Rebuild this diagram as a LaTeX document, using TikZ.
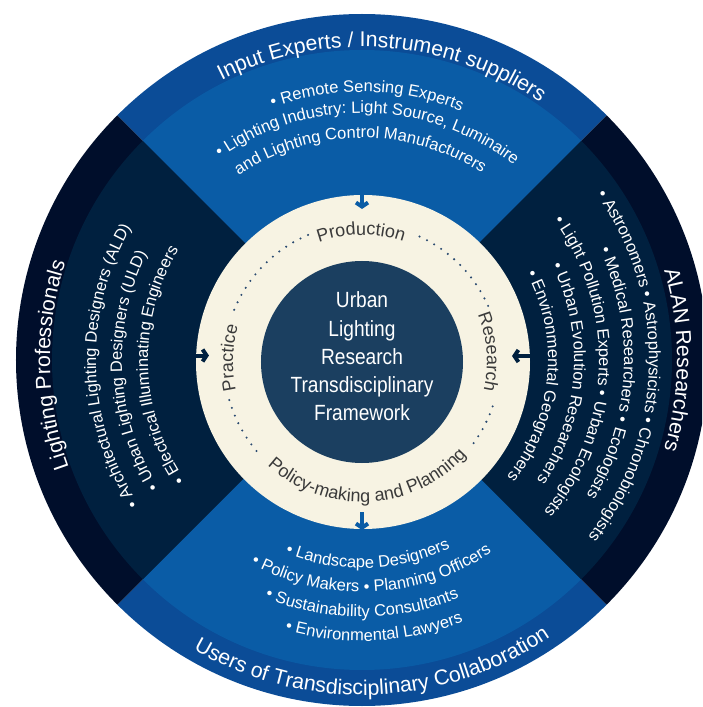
\documentclass[tikz,border=0pt]{standalone}
\usepackage{fontspec}
\setmainfont{Liberation Sans}
\newfontfamily\narrowfont[FakeStretch=0.87]{Liberation Sans}
\usetikzlibrary{decorations.text,arrows.meta}
\definecolor{bandBlue}{HTML}{0B4C97}
\definecolor{innerBlue}{HTML}{0A5CA6}
\definecolor{bandNavy}{HTML}{000E2B}
\definecolor{innerNavy}{HTML}{00203F}
\definecolor{creamFill}{HTML}{F7F3E3}
\definecolor{coreBlue}{HTML}{1B3F60}
\definecolor{labelGrey}{HTML}{3A3A3A}
\definecolor{dotBlue}{HTML}{2A4A70}
\newcommand\bandfont{\fontsize{21.3}{21.3}\selectfont}
\newcommand\listfont{\fontsize{16.5}{16.5}\selectfont}
\newcommand\ringfont{\fontsize{18}{18}\selectfont}
% clockwise arc text (letters face outward)
\newcommand\cwtext[5]{%
  \path[decorate,decoration={text along path,text align=center,text color=#3,text={|#4|#5}}]
    ({#2+85}:#1) arc[start angle={#2+85},end angle={#2-85},radius=#1];}
% counter-clockwise arc text (letters face inward)
\newcommand\ccwtext[5]{%
  \path[decorate,decoration={text along path,text align=center,text color=#3,text={|#4|#5}}]
    ({#2-85}:#1) arc[start angle={#2-85},end angle={#2+85},radius=#1];}
\tikzset{
  flowarrow/.style={line width=4pt,-{Straight Barb[length=4pt,width=12pt]}},
  dotring/.style={dotBlue,line width=2.3pt,line cap=round,dash pattern=on 0pt off 8.3pt}
}
\begin{document}
\begin{tikzpicture}[x=1pt,y=1pt]
\useasboundingbox (-362,-347) rectangle (340,360);
\clip (-362,-347) rectangle (340,360);
\fill[white] (-362,-347) rectangle (340,360);
% outer band
\fill[bandBlue] (0,0) -- (45:346) arc[start angle=45,end angle=135,radius=346] -- cycle;
\fill[bandBlue] (0,0) -- (225:346) arc[start angle=225,end angle=315,radius=346] -- cycle;
\fill[bandNavy] (0,0) -- (135:346) arc[start angle=135,end angle=225,radius=346] -- cycle;
\fill[bandNavy] (0,0) -- (-45:346) arc[start angle=-45,end angle=45,radius=346] -- cycle;
% inner ring
\fill[innerBlue] (0,0) -- (45:310) arc[start angle=45,end angle=135,radius=310] -- cycle;
\fill[innerBlue] (0,0) -- (225:310) arc[start angle=225,end angle=315,radius=310] -- cycle;
\fill[innerNavy] (0,0) -- (135:310) arc[start angle=135,end angle=225,radius=310] -- cycle;
\fill[innerNavy] (0,0) -- (-45:310) arc[start angle=-45,end angle=45,radius=310] -- cycle;
% arrow end points
\coordinate (inTopA) at (0,171);
\coordinate (inTopB) at (0,151);
\coordinate (outBotA) at (0,-152);
\coordinate (outBotB) at (0,-170);
\coordinate (inLeftA) at (-169,4.5);
\coordinate (inLeftB) at (-153,4.5);
\coordinate (inRightA) at (172,4);
\coordinate (inRightB) at (150,4);
% cream ring
\fill[creamFill] (1,-2) circle[radius=167];
\draw[flowarrow,innerBlue] (inTopA) -- (inTopB);
\draw[flowarrow,innerBlue] (outBotA) -- (outBotB);
\draw[flowarrow,innerNavy] (inLeftA) -- (inLeftB);
\draw[flowarrow,innerNavy] (inRightA) -- (inRightB);
\begin{scope}[shift={(0,-2)}]
\draw[dotring] (113:138) arc[start angle=113,end angle=161,radius=138];
\draw[dotring] (196:138) arc[start angle=196,end angle=221,radius=138];
\draw[dotring] (-36:138) arc[start angle=-36,end angle=-16,radius=138];
\draw[dotring] (24:138) arc[start angle=24,end angle=68,radius=138];
\cwtext{127}{90.4}{labelGrey}{\ringfont}{Production}
\cwtext{125}{4.5}{labelGrey}{\ringfont}{Research}
\cwtext{129}{178.2}{labelGrey}{\ringfont}{Practice}
\ccwtext{140}{273}{labelGrey}{\ringfont}{Policy-making and Planning}
\fill[coreBlue] (0,0) circle[radius=101];
\end{scope}
\node[align=center,text=white,inner sep=0pt,font=\narrowfont\fontsize{22}{28.3}\selectfont] (core) at (0,3.5)
  {Urban\\Lighting\\Research\\Transdisciplinary\\Framework};
% band titles
\cwtext{313}{86}{white}{\bandfont}{Input Experts / Instrument suppliers}
\ccwtext{335}{272}{white}{\bandfont}{Users of Transdisciplinary Collaboration}
\cwtext{312}{181}{white}{\bandfont}{Lighting Professionals}
\cwtext{315}{0}{white}{\bandfont}{ALAN Researchers}
% top list
\cwtext{268}{88.9}{white}{\listfont}{• Remote Sensing Experts}
\cwtext{247}{88.6}{white}{\listfont}{• Lighting Industry: Light Source, Luminaire}
\cwtext{222}{90.5}{white}{\listfont}{and Lighting Control Manufacturers}
% bottom list
\ccwtext{208}{271.7}{white}{\listfont}{• Landscape Designers}
\ccwtext{232}{272.7}{white}{\listfont}{• Policy Makers • Planning Officers}
\ccwtext{257}{270}{white}{\listfont}{• Sustainability Consultants}
\ccwtext{281}{272.6}{white}{\listfont}{• Environmental Lawyers}
% left list
\cwtext{266}{181.5}{white}{\listfont}{• Architectural Lighting Designers (ALD)}
\cwtext{240}{182.9}{white}{\listfont}{• Urban Lighting Designers (ULD)}
\cwtext{214}{181.6}{white}{\listfont}{• Electrical Illuminating Engineers}
% right list
\cwtext{287}{-1.4}{white}{\listfont}{• Astronomers • Astrophysicists • Chronobiologists}
\cwtext{262}{-3.1}{white}{\listfont}{• Medical Researchers • Ecologists}
\cwtext{237}{-1.9}{white}{\listfont}{• Light Pollution Experts • Urban Ecologists}
\cwtext{212}{-4}{white}{\listfont}{• Urban Evolution Researchers}
\cwtext{186}{-5.5}{white}{\listfont}{• Environmental Geographers}
\end{tikzpicture}
\end{document}
